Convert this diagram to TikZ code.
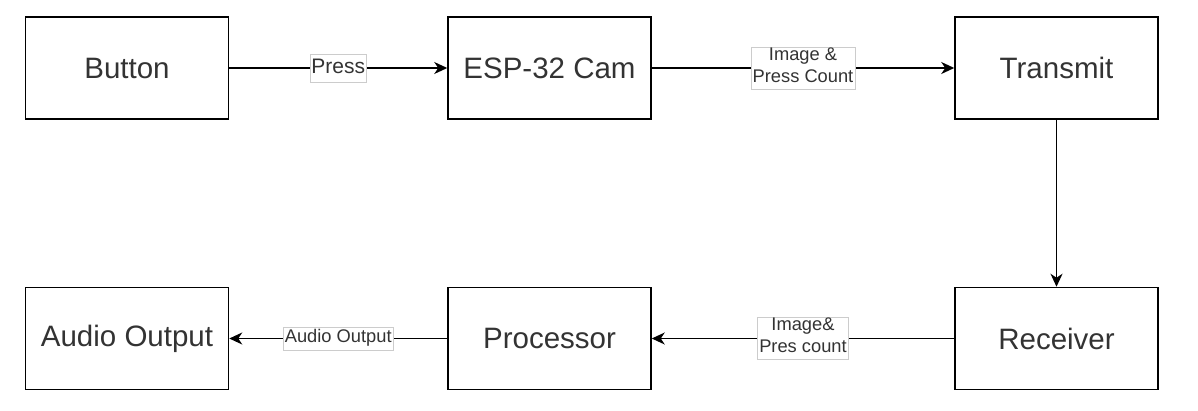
\documentclass[tikz,border=0pt]{standalone}
\usepackage{fontspec}
\setmainfont{Liberation Sans}
\usetikzlibrary{arrows.meta}

\begin{document}
\begin{tikzpicture}[x=1pt,y=-1pt,
            block/.style={draw, line width=1.5pt, minimum width=203pt, minimum height=102pt,
                text=black!80, font=\fontsize{29.5}{35}\selectfont},
            flow/.style={line width=1.5pt, -{Stealth[length=13pt,width=12pt,inset=4pt]}},
            tag/.style={draw=gray!40, line width=0.7pt, fill=white, align=center, text=black!80,
                inner xsep=1.5pt, inner ysep=0.5pt,
                font=\fontsize{18.3}{22}\selectfont,
                execute at begin node=\strut, execute at end node=\strut}]
            \useasboundingbox (0,0) rectangle (1198,410);

            \coordinate (p1) at (127,68);
            \coordinate (p2) at (549.5,68);
            \coordinate (p3) at (1056.5,68);
            \coordinate (p4) at (1056.5,338.5);
            \coordinate (p5) at (549.5,338.5);
            \coordinate (p6) at (127,338.5);

            \node[block] (button) at (p1) {Button};
            \node[block] (cam) at (p2) {ESP-32 Cam};
            \node[block] (transmit) at (p3) {Transmit};
            \node[block] (receiver) at (p4) {Receiver};
            \node[block] (processor) at (p5) {Processor};
            \node[block] (audio) at (p6) {Audio Output};

            \draw[flow] (button) -- node[tag, font=\fontsize{21}{27}\selectfont] {Press} (cam);
            \draw[flow] (cam) -- node[tag] {Image \&\\Press Count} (transmit);
            \draw[flow] (transmit) -- (receiver);
            \draw[flow] (receiver) -- node[tag] {Image\&\\Pres count} (processor);
            \draw[flow] (processor) -- node[tag] {Audio Output} (audio);
        \end{tikzpicture}
\end{document}
